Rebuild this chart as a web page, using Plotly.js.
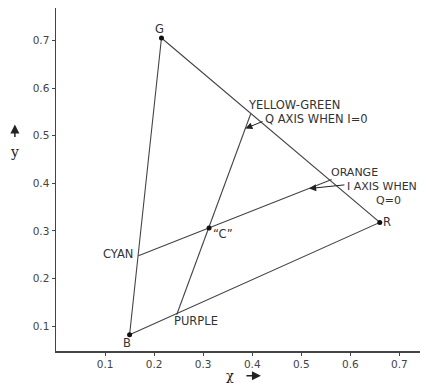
<!DOCTYPE html>
<html>
<head>
<meta charset="utf-8">
<script src="https://cdn.plot.ly/plotly-3.0.1.min.js"></script>
<style>
html,body{margin:0;padding:0;background:#fff;}
#chart{width:434px;height:383px;}
</style>
</head>
<body>
<div id="chart"></div>
<script>
// Primaries (chromaticity x, y)
const primaryNames = ['G', 'R', 'B'];
const primaryX = [0.215, 0.66, 0.15];
const primaryY = [0.705, 0.318, 0.082];
// Illuminant C
const whiteName = '“C”';
const whiteX = [0.312];
const whiteY = [0.306];
// Hue end points of the I and Q axes
const hueNames = ['YELLOW-GREEN', 'PURPLE', 'ORANGE', 'CYAN'];
const hueX = [0.397, 0.246, 0.562, 0.168];
const hueY = [0.546, 0.124, 0.408, 0.248];
// Tick labels
const xTicks = [0.1, 0.2, 0.3, 0.4, 0.5, 0.6, 0.7];
const xTickText = ['0.1', '0.2', '0.3', '0.4', '0.5', '0.6', '0.7'];
const yTicks = [0.1, 0.2, 0.3, 0.4, 0.5, 0.6, 0.7];
const yTickText = ['0.1', '0.2', '0.3', '0.4', '0.5', '0.6', '0.7'];

const lineCol = '#444';
const txtCol = '#333';
const fnt = {family: 'DejaVu Sans', size: 11.5, color: txtCol};
const fntS = {family: 'DejaVu Sans', size: 11, color: txtCol};

const traces = [
  { // triangle G-R-B
    x: [primaryX[0], primaryX[1], primaryX[2], primaryX[0]],
    y: [primaryY[0], primaryY[1], primaryY[2], primaryY[0]],
    mode: 'lines', line: {color: lineCol, width: 1.1}, hoverinfo: 'skip'
  },
  { // Q axis: yellow-green to purple
    x: [hueX[0], whiteX[0], hueX[1]],
    y: [hueY[0], whiteY[0], hueY[1]],
    mode: 'lines', line: {color: lineCol, width: 1.1}, hoverinfo: 'skip'
  },
  { // I axis: orange to cyan
    x: [hueX[2], whiteX[0], hueX[3]],
    y: [hueY[2], whiteY[0], hueY[3]],
    mode: 'lines', line: {color: lineCol, width: 1.1}, hoverinfo: 'skip'
  },
  { // dots
    x: primaryX.concat(whiteX),
    y: primaryY.concat(whiteY),
    mode: 'markers', marker: {color: '#111', size: 5}, hoverinfo: 'skip'
  }
];

function lab(text, x, y, xanchor, yanchor, f) {
  return {text: text, x: x, y: y, xref: 'x', yref: 'y', showarrow: false,
          xanchor: xanchor || 'left', yanchor: yanchor || 'middle', font: f || fnt,
          borderpad: 0, borderwidth: 0};
}

const annotations = [
  lab(primaryNames[0], primaryX[0] - 0.005, primaryY[0] + 0.018, 'center'),
  lab(primaryNames[1], primaryX[1] + 0.006, primaryY[1], 'left'),
  lab(primaryNames[2], primaryX[2] - 0.006, primaryY[2] - 0.018, 'center'),
  lab(whiteName, whiteX[0] + 0.028, whiteY[0] - 0.012, 'center'),
  lab(hueNames[3], hueX[3] - 0.011, hueY[3] + 0.003, 'right'),
  lab(hueNames[1], hueX[1] - 0.005, hueY[1] - 0.014, 'left'),
  lab(hueNames[0], hueX[0] - 0.005, hueY[0] + 0.019, 'left'),
  lab('Q AXIS WHEN I=0', 0.426, 0.534, 'left'),
  lab(hueNames[2], hueX[2] - 0.002, 0.4101, 'left', 'bottom', fntS),
  lab('I AXIS WHEN', 0.593, 0.3943, 'left', 'middle', fntS),
  lab('Q=0', 0.678, 0.3786, 'center', 'top', fntS),
  // pointer arrows
  {x: 0.386, y: 0.515, ax: 0.424, ay: 0.531, xref: 'x', yref: 'y', axref: 'x', ayref: 'y',
   text: '', showarrow: true, arrowhead: 2, arrowsize: 1.4, arrowwidth: 1, arrowcolor: '#222'},
  {x: 0.516, y: 0.389, ax: 0.591, ay: 0.397, xref: 'x', yref: 'y', axref: 'x', ayref: 'y',
   text: '', showarrow: true, arrowhead: 2, arrowsize: 1.4, arrowwidth: 1, arrowcolor: '#222'},
  // axis titles
  {text: 'χ', x: 0.478, y: -0.072, xref: 'paper', yref: 'paper', showarrow: false,
   xanchor: 'center', yanchor: 'middle',
   font: {family: 'DejaVu Serif', size: 13, color: '#222'}},
  {x: 0.563, y: -0.072, ax: -16, ay: 0, xref: 'paper', yref: 'paper', text: '',
   showarrow: true, arrowhead: 2, arrowsize: 1.2, arrowwidth: 1.5, arrowcolor: '#222'},
  {text: 'y', x: -0.113, y: 0.58, xref: 'paper', yref: 'paper', showarrow: false,
   xanchor: 'center', yanchor: 'middle',
   font: {family: 'DejaVu Serif', size: 14, color: '#222'}},
  {x: -0.113, y: 0.66, ax: 0, ay: 14, xref: 'paper', yref: 'paper', text: '',
   showarrow: true, arrowhead: 2, arrowsize: 1.2, arrowwidth: 1.5, arrowcolor: '#222'}
];

const layout = {
  width: 434, height: 383,
  margin: {l: 56, r: 14, t: 8, b: 32},
  paper_bgcolor: '#fff', plot_bgcolor: '#fff',
  showlegend: false,
  xaxis: {
    range: [0, 0.742], showgrid: false, zeroline: false,
    showline: true, linecolor: '#444', linewidth: 1.5,
    ticks: 'outside', ticklen: 3, tickcolor: '#444',
    tickvals: xTicks, ticktext: xTickText,
    tickfont: {family: 'DejaVu Sans', size: 10.5, color: '#444'}
  },
  yaxis: {
    range: [0.048, 0.768], showgrid: false, zeroline: false,
    showline: true, linecolor: '#444', linewidth: 1.5,
    ticks: 'outside', ticklen: 3, tickcolor: '#444',
    tickvals: yTicks, ticktext: yTickText,
    tickfont: {family: 'DejaVu Sans', size: 10.5, color: '#444'}
  },
  annotations: annotations
};

Plotly.newPlot('chart', traces, layout, {staticPlot: true, displayModeBar: false});
</script>
</body>
</html>
